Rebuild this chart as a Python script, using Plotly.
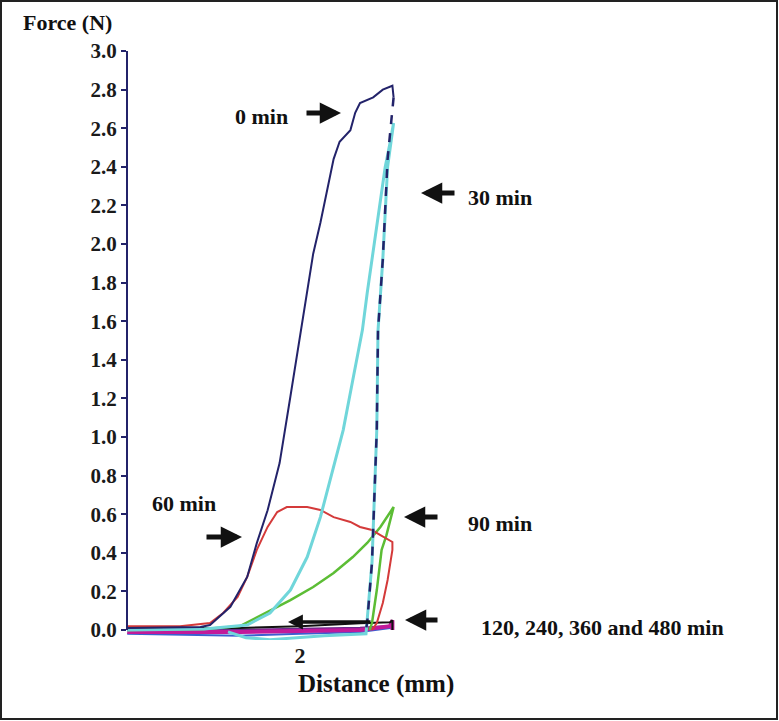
import plotly.graph_objects as go

# ---------------- data (distance in mm, force in N) ----------------
zero_x = [0.56, 1.00, 1.17, 1.25, 1.42, 1.56, 1.64, 1.73, 1.83, 1.92, 1.98, 2.06, 2.11, 2.17,
          2.23, 2.28, 2.33, 2.42, 2.46, 2.50, 2.61, 2.69, 2.77, 2.78]
zero_y = [0.010, 0.012, 0.016, 0.026, 0.12, 0.275, 0.45, 0.62, 0.865, 1.21, 1.44, 1.76, 1.95, 2.11,
          2.30, 2.44, 2.53, 2.59, 2.68, 2.73, 2.76, 2.80, 2.82, 2.76]
zero_ret_x = [2.78, 2.73, 2.69, 2.65, 2.64, 2.60, 2.56, 2.55]
zero_ret_y = [2.76, 2.44, 1.92, 1.55, 1.04, 0.35, 0.04, 0.00]

thirty_x = [0.56, 1.20, 1.56, 1.75, 1.92, 2.06, 2.17, 2.25, 2.36, 2.44, 2.52, 2.56, 2.64, 2.71,
            2.75, 2.78, 2.73, 2.69, 2.65, 2.64, 2.60, 2.56, 2.55, 2.20, 1.75, 1.55, 1.40]
thirty_y = [0.000, 0.005, 0.026, 0.088, 0.207, 0.378, 0.585, 0.777, 1.036, 1.295, 1.554, 1.746,
            2.088, 2.399, 2.523, 2.627, 2.40, 1.92, 1.55, 1.04, 0.35, 0.04, -0.02, -0.03, -0.05,
            -0.04, -0.01]

sixty_x = [0.56, 1.00, 1.25, 1.36, 1.48, 1.56, 1.64, 1.73, 1.81, 1.89, 2.06, 2.17, 2.28, 2.42,
           2.50, 2.60, 2.67, 2.77, 2.77, 2.73, 2.69, 2.64, 2.60]
sixty_y = [0.020, 0.020, 0.036, 0.088, 0.171, 0.275, 0.415, 0.534, 0.611, 0.637, 0.637, 0.622,
           0.585, 0.560, 0.534, 0.518, 0.492, 0.456, 0.415, 0.259, 0.140, 0.036, 0.000]

ninety_x = [0.56, 1.20, 1.50, 1.73, 1.92, 2.11, 2.28, 2.44, 2.56, 2.67, 2.78, 2.72, 2.68, 2.64,
            2.60, 2.58]
ninety_y = [0.000, 0.005, 0.020, 0.093, 0.155, 0.223, 0.295, 0.378, 0.451, 0.534, 0.637, 0.490,
            0.415, 0.207, 0.036, 0.000]

late_x = [0.56, 1.00, 1.50, 2.00, 2.50, 2.75, 2.77, 2.77]
m120_y = [0.005, 0.010, 0.010, 0.020, 0.035, 0.040, 0.050, 0.000]
m240_y = [-0.010, -0.012, -0.010, -0.005, 0.000, 0.020, 0.050, 0.000]
m360_y = [0.000, -0.005, 0.000, 0.005, 0.010, 0.020, 0.030, 0.000]
m480_y = [-0.020, -0.025, -0.030, -0.020, -0.010, 0.010, 0.020, 0.000]

y_ticks = [0.0, 0.2, 0.4, 0.6, 0.8, 1.0, 1.2, 1.4, 1.6, 1.8, 2.0, 2.2, 2.4, 2.6, 2.8, 3.0]
x_ticks = [2]

labels = ["0 min", "30 min", "60 min", "90 min", "120, 240, 360 and 480 min"]

# ---------------- layout geometry ----------------
W, H = 779, 721
L, R, T, B = 127, 455, 51, 640          # plot area in pixels
X0 = 2 + (L - 300) / 120.0
X1 = 2 + (R - 300) / 120.0
Y1 = 3.0
Y0 = -(B - 630) / 193.0


def px(xp):
    return (xp - L) / (R - L)


def py(yp):
    return (B - yp) / (B - T)


NAVY = "#23236a"
FONT = "Liberation Serif"

fig = go.Figure()


def add(x, y, color, width, dash="solid"):
    fig.add_trace(go.Scatter(x=x, y=y, mode="lines", line=dict(color=color, width=width, dash=dash),
                             showlegend=False, hoverinfo="skip"))


add(late_x, m480_y, "#3a5fd0", 2)
add(late_x, m360_y, "#6a2a8a", 2.5)
add(late_x, m240_y, "#c21a9a", 4)
add(late_x, m120_y, "#111111", 2)
add(ninety_x, ninety_y, "#5cbd35", 2.5)
add(sixty_x, sixty_y, "#d43a3a", 2)
add(thirty_x, thirty_y, "#70d6da", 3)
add(zero_x, zero_y, NAVY, 2)
add(zero_ret_x, zero_ret_y, NAVY, 2.5, dash="dash")

fig.update_xaxes(range=[X0, X1], showgrid=False, zeroline=True, zerolinecolor=NAVY,
                 zerolinewidth=2, showline=False, tickvals=x_ticks,
                 ticktext=["<b>%d</b>" % v for v in x_ticks],
                 ticks="", tickfont=dict(family=FONT, size=22, color="#1a1a1a"))
fig.update_yaxes(range=[Y0, Y1], showgrid=False, zeroline=False, showline=False,
                 tickvals=y_ticks, ticktext=["<b>%.1f</b>" % v for v in y_ticks],
                 ticks="outside", ticklen=5, tickwidth=1.5, tickcolor=NAVY,
                 tickfont=dict(family=FONT, size=21, color="#1a1a1a"))

shapes = [
    dict(type="line", xref="paper", yref="y", x0=0, x1=0, y0=0, y1=3.0,
         line=dict(color=NAVY, width=2)),
    dict(type="rect", xref="paper", yref="paper", x0=px(1), x1=px(777), y0=py(1), y1=py(719),
         line=dict(color="#222222", width=2), fillcolor="rgba(0,0,0,0)"),
]

bold = lambda s: "<b>%s</b>" % s
ann = []


def text(t, xp, yp, size=22):
    ann.append(dict(text=bold(t), xref="paper", yref="paper", x=px(xp), y=py(yp),
                    xanchor="center", yanchor="middle", showarrow=False,
                    font=dict(family=FONT, size=size, color="#111111")))


def arrow(hx, hy, tx, ty, width=5):
    ann.append(dict(text="", xref="paper", yref="paper", x=px(hx), y=py(hy),
                    ax=tx - hx, ay=ty - hy, showarrow=True, arrowhead=2, arrowsize=0.85,
                    arrowwidth=width, arrowcolor="#111111"))


text("Force (N)", 67, 22, 22)
text("Distance (mm)", 376, 684, 25)
text(labels[0], 261, 117)
text(labels[1], 500, 197)
text(labels[2], 184, 503)
text(labels[3], 500, 523)
text(labels[4], 602, 627)

arrow(341, 113, 305, 113)
arrow(421, 193, 456, 193)
arrow(242, 537, 205, 537)
arrow(404, 517, 439, 517)
arrow(405, 620, 439, 620)
arrow(288, 622, 372, 622, width=3.5)

fig.update_layout(width=W, height=H, margin=dict(l=L, r=W - R, t=T, b=H - B),
                  paper_bgcolor="white", plot_bgcolor="white", shapes=shapes, annotations=ann,
                  showlegend=False)

fig.write_html("out.html", config={"displayModeBar": False},
               post_script="document.body.style.margin='0';document.body.style.overflow='hidden';")
